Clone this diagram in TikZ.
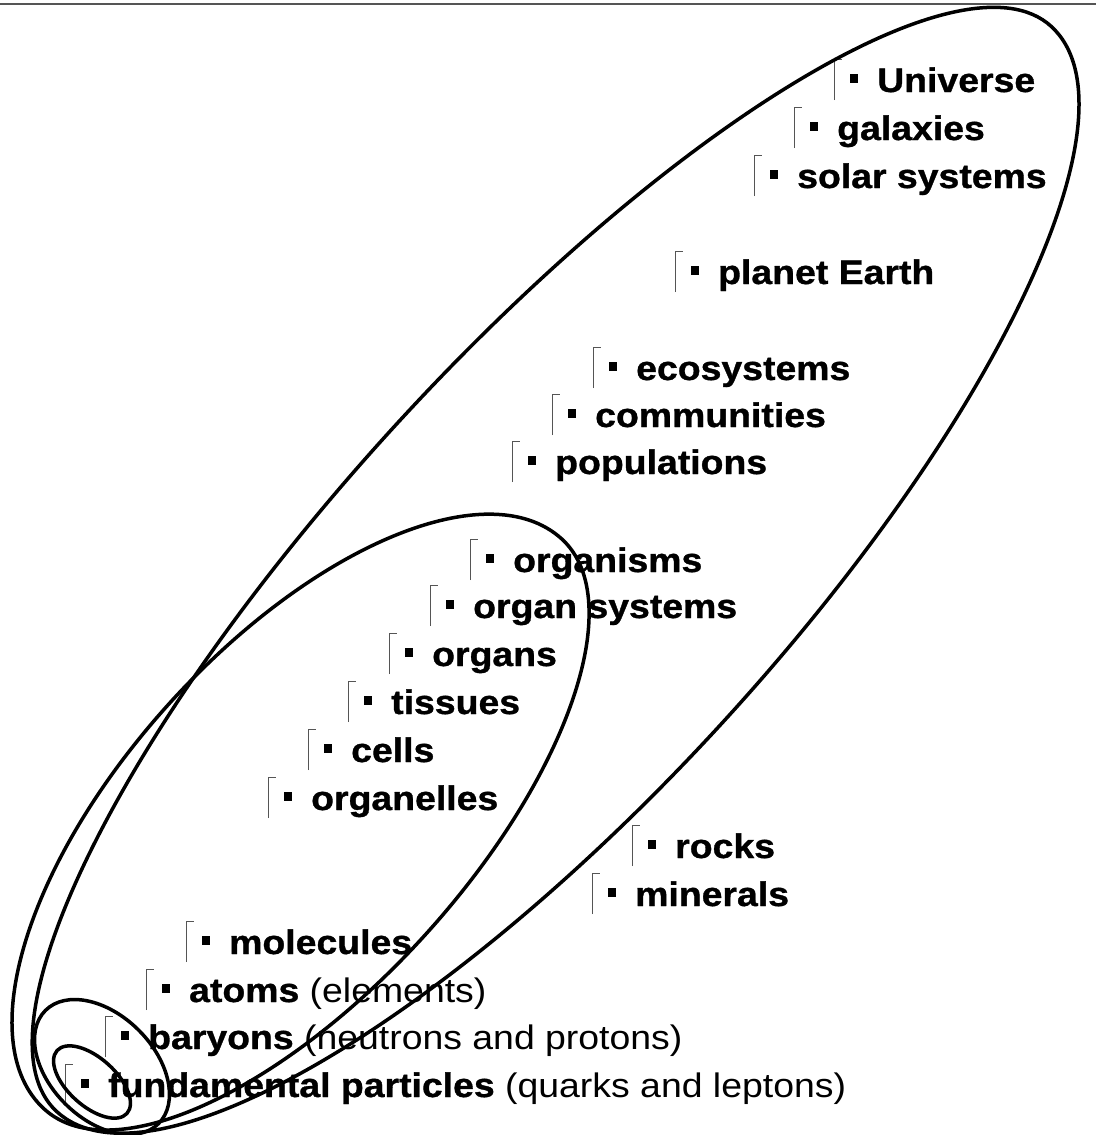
\documentclass[tikz,border=0pt]{standalone}
\usepackage{fontspec}
\setmainfont[FakeStretch=1.1,BoldFeatures={FakeBold=1}]{Liberation Sans}
\usepackage{xcolor}
\definecolor{Ink}  {HTML}{000000}
\definecolor{MGray}{HTML}{555555}
% bracket tick + square bullet in front of each level
\newcommand{\mk}{\hbox to 43pt{\color{MGray}\vrule width 1pt height 33pt depth 8pt\kern-1pt\vrule width 8pt height 33pt depth -32pt\kern7.5pt\color{Ink}\vrule width 8.5pt height 18pt depth -9.5pt\hfil}}
\tikzset{
  lvl/.style={
    anchor=base west, inner sep=0pt, text=Ink,
    font=\fontsize{34}{40}\selectfont\bfseries,
  },
  ring/.style={
    draw=Ink, line width=3.5pt,
  },
  topline/.style={
    draw=MGray, line width=2pt,
  },
}
\begin{document}
\begin{tikzpicture}[x=1pt,y=-1pt]
  \useasboundingbox (0,0) rectangle (1096,1135);
  \draw[topline] (0,4) -- (1096,4);
  % levels
  \node[lvl](univ)   at (834,92)   {\mk Universe};
  \node[lvl](gal)    at (794,140)  {\mk galaxies};
  \node[lvl](sol)    at (754,188)  {\mk solar systems};
  \node[lvl](earth)  at (675,284)  {\mk planet Earth};
  \node[lvl](eco)    at (593,380)  {\mk ecosystems};
  \node[lvl](comm)   at (552,427)  {\mk communities};
  \node[lvl](pop)    at (512,474)  {\mk populations};
  \node[lvl](orgm)   at (470,572)  {\mk organisms};
  \node[lvl](orgsys) at (430,618)  {\mk organ systems};
  \node[lvl](organs) at (389,666)  {\mk organs};
  \node[lvl](tiss)   at (348,714)  {\mk tissues};
  \node[lvl](cells)  at (308,762)  {\mk cells};
  \node[lvl](orgnl)  at (268,810)  {\mk organelles};
  \node[lvl](rocks)  at (632,858)  {\mk rocks};
  \node[lvl](miner)  at (592,906)  {\mk minerals};
  \node[lvl](molec)  at (186,954)  {\mk molecules};
  \node[lvl](atoms)  at (146,1002) {\mk atoms {\mdseries (elements)}};
  \node[lvl](baryon) at (105,1049) {\mk baryons {\mdseries (neutrons and protons)}};
  \node[lvl](fund)   at (65,1097)  {\mk fundamental particles {\mdseries (quarks and leptons)}};
  % nested rings
  \draw[ring, rotate around={47.5:(554,569)}] (1290,569)
    arc[start angle=0, end angle=180, x radius=736, y radius=228]
    arc[start angle=180, end angle=360, x radius=736, y radius=214] -- cycle;
  \draw[ring, rotate around={47.8:(303,824)}] (688,824)
    arc[start angle=0, end angle=180, x radius=385, y radius=165]
    arc[start angle=180, end angle=360, x radius=385, y radius=180] -- cycle;
  \draw[ring, rotate around={-45:(102,1067)}] (102,1067) ellipse [x radius=80, y radius=52];
  \draw[ring, rotate around={-42:(92,1082)}] (92,1082) ellipse [x radius=47, y radius=24];
\end{tikzpicture}
\end{document}
